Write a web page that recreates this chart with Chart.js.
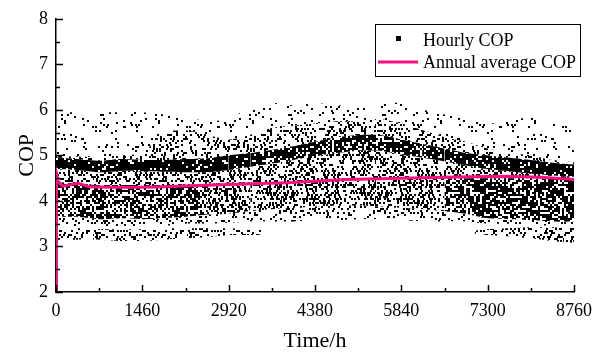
<!DOCTYPE html>
<html>
<head>
<meta charset="utf-8">
<script src="https://cdn.jsdelivr.net/npm/chart.js@4/dist/chart.umd.min.js"></script>
<style>
  html, body { margin: 0; padding: 0; background: #fff; }
  #wrap { width: 600px; height: 356px; }
</style>
</head>
<body>
<div id="wrap"><canvas id="cop" width="600" height="356"></canvas></div>
<script>
// hours of the sampling grid used for the band outlines
const hours = [0, 365, 730, 1095, 1460, 1825, 2190, 2555, 2920, 3285, 3650, 4015, 4380,
               4745, 5110, 5475, 5840, 6205, 6570, 6935, 7300, 7665, 8030, 8395, 8760];

// outlines of the hourly COP cloud, top to bottom
const maxCOP      = [5.95, 5.95, 5.95, 5.95, 5.95, 5.9, 5.85, 5.75, 5.8, 6.05, 6.15, 6.1, 6.15,
                     6.1, 6.1, 6.15, 6.15, 6.0, 5.9, 5.8, 5.7, 5.75, 5.85, 5.75, 5.6];
const upperMid    = [5.0, 4.97, 4.97, 5.0, 5.05, 5.5, 5.55, 5.45, 5.35, 5.45, 5.6, 5.65, 5.7,
                     5.75, 5.75, 5.8, 5.7, 5.55, 5.4, 5.3, 5.15, 5.05, 5.0, 4.9, 4.85];
const denseTop    = [4.96, 4.92, 4.88, 4.92, 4.9, 4.9, 4.92, 4.94, 5.0, 5.05, 5.12, 5.2, 5.3,
                     5.4, 5.45, 5.45, 5.35, 5.25, 5.15, 5.05, 5.0, 4.95, 4.9, 4.84, 4.8];
const denseBottom = [4.7, 4.68, 4.63, 4.66, 4.65, 4.64, 4.63, 4.63, 4.68, 4.75, 4.82, 4.9, 4.98,
                     5.05, 5.1, 5.1, 5.02, 4.95, 4.87, 4.78, 4.7, 4.65, 4.6, 4.56, 4.53];
const midSplit    = [4.42, 4.38, 4.35, 4.35, 4.35, 4.35, 4.35, 4.38, 4.4, 4.4, 4.4, 4.42, 4.42,
                     4.45, 4.45, 4.48, 4.5, 4.5, 4.5, 4.5, 4.5, 4.5, 4.5, 4.48, 4.48];
const midBottom   = [3.65, 3.65, 3.6, 3.62, 3.6, 3.62, 3.65, 3.7, 3.72, 3.78, 3.82, 3.85, 3.88,
                     3.9, 3.9, 3.88, 3.85, 3.82, 3.78, 3.72, 3.62, 3.6, 3.58, 3.55, 3.55];
const lowerBottom = [3.45, 3.45, 3.45, 3.45, 3.45, 3.45, 3.5, 3.5, 3.52, 3.55, 3.55, 3.55, 3.58,
                     3.58, 3.6, 3.6, 3.58, 3.55, 3.55, 3.55, 3.5, 3.5, 3.48, 3.45, 3.45];

// lowest strip, first part of the year
const lowAHours  = [0, 365, 730, 1095, 1460, 1825, 2190, 2555, 2920, 3285, 3470];
const lowATop    = [3.4, 3.4, 3.38, 3.38, 3.38, 3.4, 3.4, 3.4, 3.4, 3.38, 3.36];
const lowABottom = [3.15, 3.15, 3.15, 3.12, 3.12, 3.15, 3.18, 3.2, 3.25, 3.25, 3.26];

// lowest strip, end of the year
const lowBHours  = [7080, 7300, 7665, 8030, 8395, 8760];
const lowBTop    = [3.35, 3.38, 3.4, 3.42, 3.42, 3.4];
const lowBBottom = [3.28, 3.25, 3.22, 3.18, 3.12, 3.08];

// annual average COP (running mean)
const avgHours = [0, 8, 40, 110, 250, 380, 560, 900, 1460, 1840, 2400, 2920, 3900, 4380,
                  4900, 5840, 6570, 7000, 7600, 8200, 8760];
const avgCOP   = [2.0, 4.6, 4.42, 4.32, 4.36, 4.39, 4.31, 4.3, 4.3, 4.31, 4.34, 4.36, 4.4, 4.43,
                  4.47, 4.5, 4.52, 4.53, 4.54, 4.52, 4.47];

const xTicks = [0, 1460, 2920, 4380, 5840, 7300, 8760];
const yTicks = [2, 3, 4, 5, 6, 7, 8];

const PINK = '#fc0f80';
const FONT = '"Liberation Serif", "Times New Roman", serif';

// speckle texture so the filled bands look like a cloud of dots
function hash(i, j) {
    let n = Math.imul(i + 17, 374761393) ^ Math.imul(j + 29, 668265263);
    n = Math.imul(n ^ (n >>> 13), 1274126177);
    n = n ^ (n >>> 16);
    return (n >>> 0) / 4294967296;
}
let seedNo = 1;
function speckle(density) {
    const seed = seedNo++;
    const w = 94, h = 86;
    const c = document.createElement('canvas');
    c.width = w; c.height = h;
    const g = c.getContext('2d');
    if (density > 0.5) {
        // mostly black: start solid and punch small white gaps
        g.fillStyle = '#000';
        g.fillRect(0, 0, w, h);
        g.fillStyle = '#fff';
        for (let y = 0; y < h; y += 2) {
            for (let x = 0; x < w; x += 2) {
                if (hash(x * 3 + seed, y * 5 + seed * 7) > density) g.fillRect(x, y, 2, 2);
            }
        }
    } else {
        g.fillStyle = '#000';
        for (let y = 0; y < h; y += 2) {
            for (let x = 0; x < w; x += 2) {
                if (hash(x * 3 + seed, y * 5 + seed * 7) < density) {
                    const jx = hash(y + seed, x + 11) < 0.5 ? 0 : 1;
                    g.fillRect(x + jx, y, 2, 2);
                }
            }
        }
    }
    return g.createPattern(c, 'repeat');
}

function pts(xs, ys) {
    return xs.map((x, i) => ({ x: x, y: ys[i] }));
}

function edge(xs, ys, bg, fill) {
    return {
        data: pts(xs, ys),
        borderColor: 'transparent',
        borderWidth: 0,
        pointRadius: 0,
        tension: 0.2,
        backgroundColor: bg,
        fill: fill,
        order: 2
    };
}

// a filled region between two outlines, optionally only over part of the grid
function region(xs, top, bottom, density, from, to) {
    const a = from || 0, b = (to === undefined ? xs.length - 1 : to) + 1;
    const sx = xs.slice(a, b);
    return [
        edge(sx, top.slice(a, b), speckle(density), '+1'),
        edge(sx, bottom.slice(a, b), 'transparent', false)
    ];
}

// inward tick marks, major and minor
const tickMarks = {
    id: 'tickMarks',
    afterDraw(chart) {
        const ctx = chart.ctx;
        const xs = chart.scales.x, ys = chart.scales.y;
        const bottom = chart.chartArea.bottom, left = chart.chartArea.left;
        ctx.save();
        ctx.strokeStyle = '#000';
        ctx.lineWidth = 1.5;
        ctx.beginPath();
        for (let v = 0; v <= 8760; v += 730) {
            const px = Math.round(xs.getPixelForValue(v)) + 0.5;
            const len = v % 1460 === 0 ? 7 : 4;
            ctx.moveTo(px, bottom);
            ctx.lineTo(px, bottom - len);
        }
        for (let v = 2; v <= 8; v += 0.5) {
            const py = Math.round(ys.getPixelForValue(v)) + 0.5;
            const len = v % 1 === 0 ? 7 : 4;
            ctx.moveTo(left, py);
            ctx.lineTo(left + len, py);
        }
        ctx.stroke();
        ctx.restore();
    }
};

// legend box in the upper right
const legendBox = {
    id: 'legendBox',
    afterDraw(chart) {
        const ctx = chart.ctx;
        ctx.save();
        ctx.fillStyle = '#fff';
        ctx.fillRect(375, 24, 205, 52);
        ctx.strokeStyle = '#000';
        ctx.lineWidth = 1;
        ctx.strokeRect(375.5, 24.5, 205, 52);
        ctx.fillStyle = '#000';
        ctx.fillRect(396, 36, 5, 5);
        ctx.strokeStyle = PINK;
        ctx.lineWidth = 3;
        ctx.beginPath();
        ctx.moveTo(378, 62);
        ctx.lineTo(418, 62);
        ctx.stroke();
        ctx.fillStyle = '#000';
        ctx.font = '18px ' + FONT;
        ctx.textBaseline = 'alphabetic';
        ctx.fillText('Hourly COP', 423, 46);
        ctx.fillText('Annual average COP', 423, 68);
        ctx.restore();
    }
};

const datasets = [].concat(
    region(hours, maxCOP, upperMid, 0.08),
    region(hours, upperMid, denseTop, 0.3),
    region(hours, denseTop, denseBottom, 0.9, 0, 8),
    region(hours, denseTop, denseBottom, 0.82, 8, 9),
    region(hours, denseTop, denseBottom, 0.74, 9, 17),
    region(hours, denseTop, denseBottom, 0.82, 17, 18),
    region(hours, denseTop, denseBottom, 0.88, 18, 24),
    region(hours, denseBottom, midSplit, 0.38),
    region(hours, midSplit, midBottom, 0.58, 0, 7),
    region(hours, midSplit, midBottom, 0.5, 7, 9),
    region(hours, midSplit, midBottom, 0.44, 9, 18),
    region(hours, midSplit, midBottom, 0.55, 18, 19),
    region(hours, midSplit, midBottom, 0.66, 19, 24),
    region(hours, midBottom, lowerBottom, 0.2),
    region(lowAHours, lowATop, lowABottom, 0.3),
    region(lowBHours, lowBTop, lowBBottom, 0.3),
    [{
        label: 'Annual average COP',
        data: pts(avgHours, avgCOP),
        borderColor: PINK,
        borderWidth: 3,
        pointRadius: 0,
        tension: 0,
        fill: false,
        order: 0
    }]
);

new Chart(document.getElementById('cop'), {
    type: 'line',
    data: { datasets: datasets },
    options: {
        responsive: false,
        animation: false,
        devicePixelRatio: 1,
        layout: { padding: { top: 18, right: 17, left: 0, bottom: 0 } },
        plugins: { legend: { display: false }, tooltip: { enabled: false } },
        scales: {
            x: {
                type: 'linear',
                min: 0,
                max: 8760,
                afterBuildTicks: s => { s.ticks = xTicks.map(v => ({ value: v })); },
                afterFit: s => { s.height = 64; },
                grid: { display: false, drawTicks: false },
                border: { display: true, color: '#000', width: 1.5 },
                ticks: { color: '#000', padding: 8, maxRotation: 0, callback: v => String(v),
                         font: { family: FONT, size: 18 } },
                title: { display: true, text: 'Time/h', color: '#000', padding: { top: 0, bottom: 2 },
                         font: { family: FONT, size: 22 } }
            },
            y: {
                min: 2,
                max: 8,
                afterBuildTicks: s => { s.ticks = yTicks.map(v => ({ value: v })); },
                afterFit: s => { s.width = 56; },
                grid: { display: false, drawTicks: false },
                border: { display: true, color: '#000', width: 1.5 },
                ticks: { color: '#000', padding: 8, callback: v => String(v),
                         font: { family: FONT, size: 18 } },
                title: { display: true, text: 'COP', color: '#000', padding: { top: 14, bottom: 0 },
                         font: { family: FONT, size: 22 } }
            }
        }
    },
    plugins: [tickMarks, legendBox]
});
</script>
</body>
</html>
